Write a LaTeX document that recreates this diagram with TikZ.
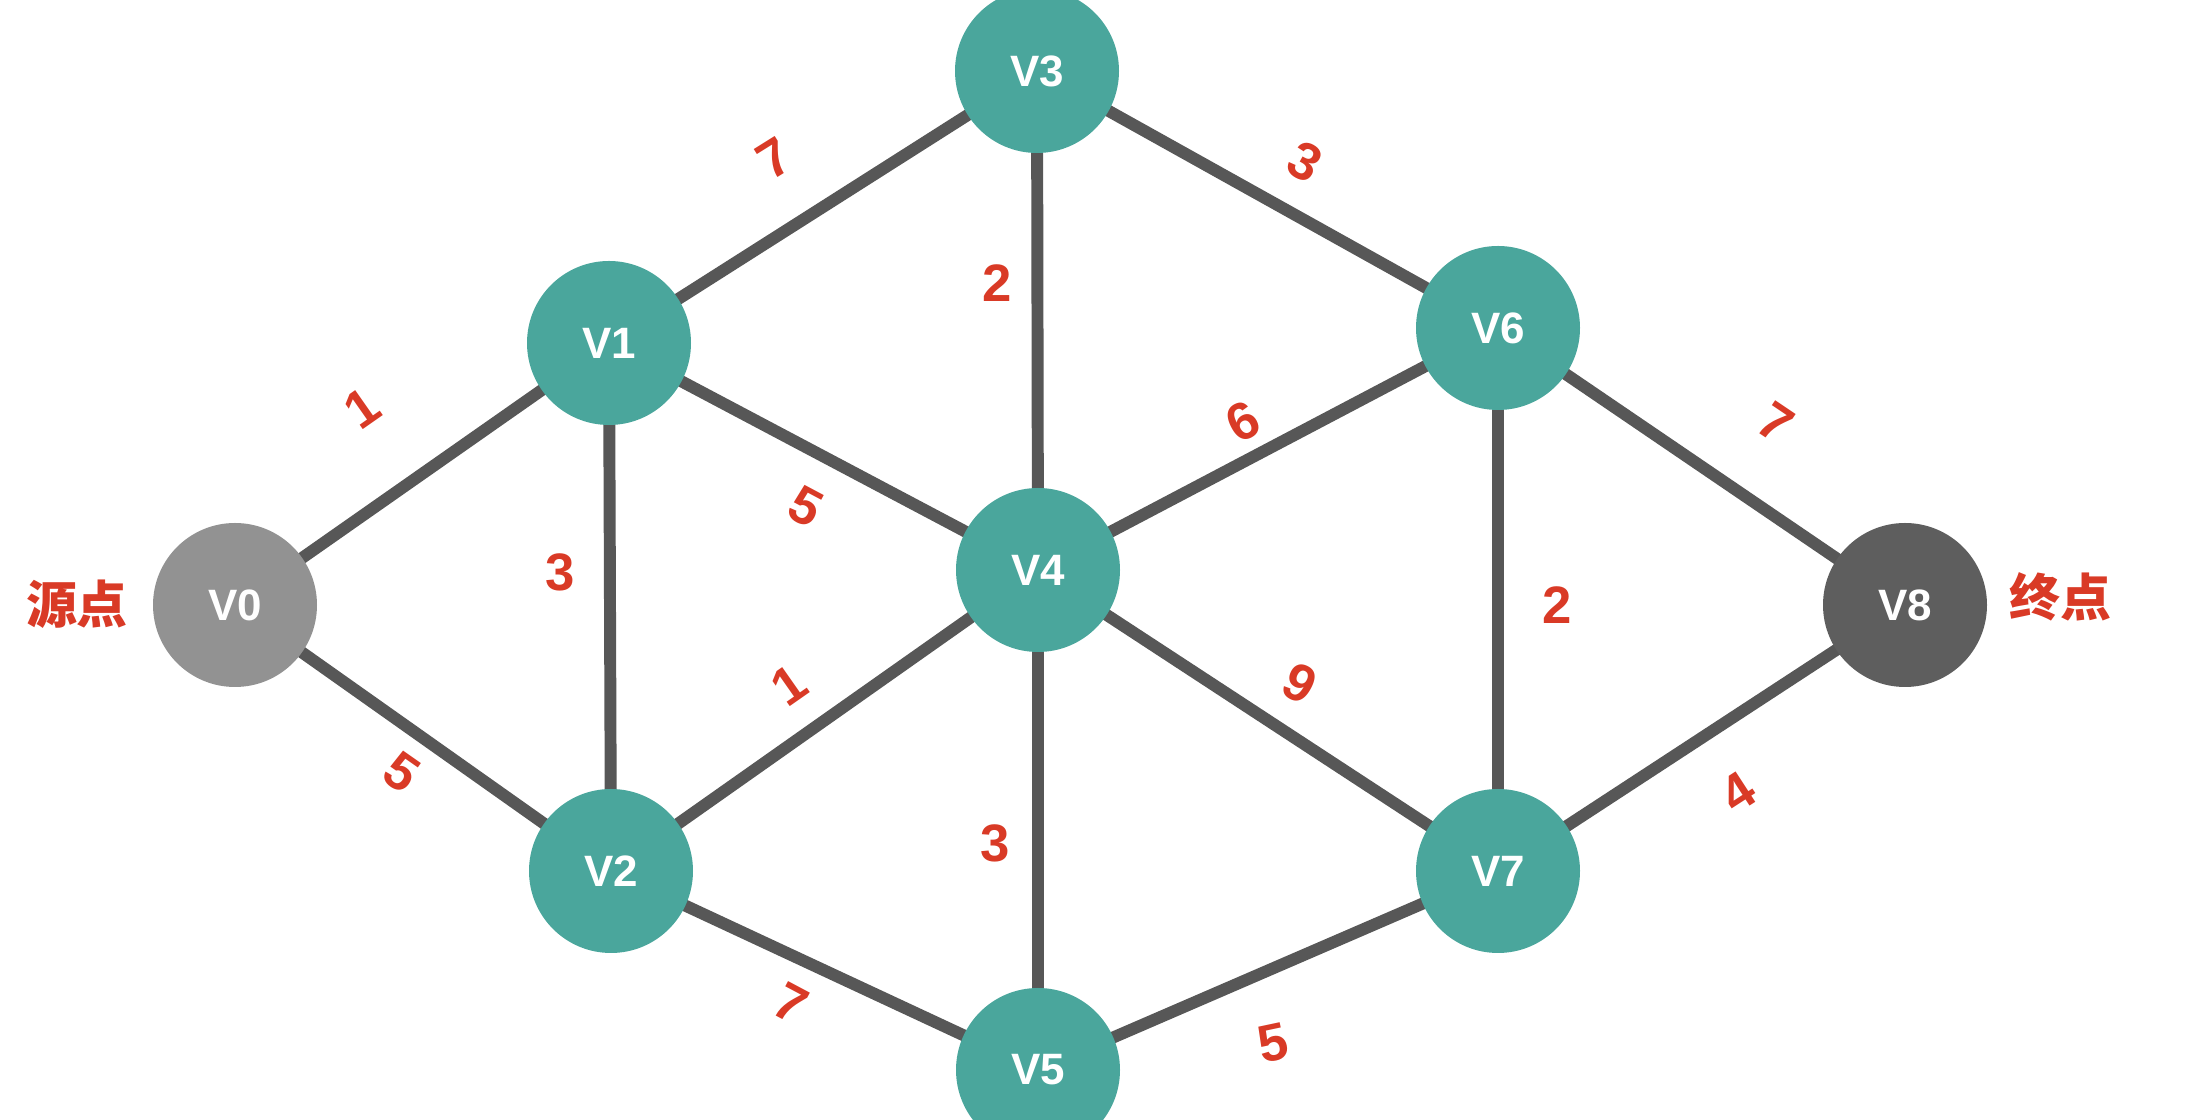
\documentclass[tikz,border=0pt]{standalone}
\usepackage{fontspec}
\setmainfont{Liberation Sans}
\newfontfamily\cjk{Noto Sans CJK SC}
\usetikzlibrary{backgrounds}
\definecolor{vteal}{HTML}{4AA69C}
\definecolor{srcgray}{HTML}{929292}
\definecolor{dstgray}{HTML}{5E5E5E}
\definecolor{linkgray}{HTML}{575757}
\definecolor{wtred}{HTML}{D93A26}

\begin{document}
\begin{tikzpicture}
  \tikzstyle{vert} = [circle, fill=vteal, text=white, minimum size=1.64cm, inner sep=0pt,
                                    font=\fontsize{12.5pt}{14pt}\selectfont\bfseries]
  \tikzstyle{src} = [vert, fill=srcgray]
  \tikzstyle{dst} = [vert, fill=dstgray]
  \tikzstyle{wt} = [text=wtred, inner sep=0pt, font=\fontsize{15pt}{17pt}\selectfont\bfseries]
  \tikzstyle{tag} = [text=wtred, inner sep=0pt, font=\fontsize{14.5pt}{16pt}\selectfont\cjk\bfseries]
  \tikzstyle{link} = [draw=linkgray, line width=3.4pt, shorten <=-3pt, shorten >=-3pt]
\useasboundingbox (0,0) rectangle (21.9,11.2);
% vertices
\node[src](v0) at (2.35,5.15){V0};
\node[vert](v1) at (6.09,7.77){V1};
\node[vert](v2) at (6.11,2.49){V2};
\node[vert](v3) at (10.37,10.49){V3};
\node[vert](v4) at (10.38,5.50){V4};
\node[vert](v5) at (10.38,0.50){V5};
\node[vert](v6) at (14.98,7.92){V6};
\node[vert](v7) at (14.98,2.49){V7};
\node[dst](v8) at (19.05,5.15){V8};
\node[tag](from) at (0.77,5.16){源点};
\node[tag](to) at (20.60,5.23){终点};
% edges, behind the circles
\begin{pgfonlayer}{background}
\draw[link] (v0) -- (v1);
\draw[link] (v0) -- (v2);
\draw[link] (v1) -- (v3);
\draw[link] (v1) -- (v2);
\draw[link] (v1) -- (v4);
\draw[link] (v2) -- (v4);
\draw[link] (v2) -- (v5);
\draw[link] (v3) -- (v4);
\draw[link] (v3) -- (v6);
\draw[link] (v4) -- (v6);
\draw[link] (v4) -- (v7);
\draw[link] (v4) -- (v5);
\draw[link] (v5) -- (v7);
\draw[link] (v6) -- (v7);
\draw[link] (v6) -- (v8);
\draw[link] (v7) -- (v8);
\end{pgfonlayer}
% weights
\node[wt, rotate=35](w01) at (3.62,7.12){1};
\node[wt, rotate=-35](w02) at (4.02,3.48){5};
\node[wt, rotate=32](w13) at (7.74,9.62){7};
\node[wt](w12) at (5.60,5.48){3};
\node[wt, rotate=-28](w14) at (8.06,6.13){5};
\node[wt, rotate=35](w24) at (7.89,4.35){1};
\node[wt, rotate=-28](w25) at (7.91,1.17){7};
\node[wt](w34) at (9.97,8.37){2};
\node[wt, rotate=-29](w36) at (13.05,9.58){3};
\node[wt, rotate=28](w46) at (12.43,6.98){6};
\node[wt, rotate=-28](w47) at (13.00,4.37){9};
\node[wt](w45) at (9.95,2.77){3};
\node[wt, rotate=12](w57) at (12.73,0.77){5};
\node[wt](w67) at (15.57,5.15){2};
\node[wt, rotate=-34](w68) at (17.76,6.97){7};
\node[wt, rotate=33](w78) at (17.38,3.28){4};
\end{tikzpicture}
\end{document}
